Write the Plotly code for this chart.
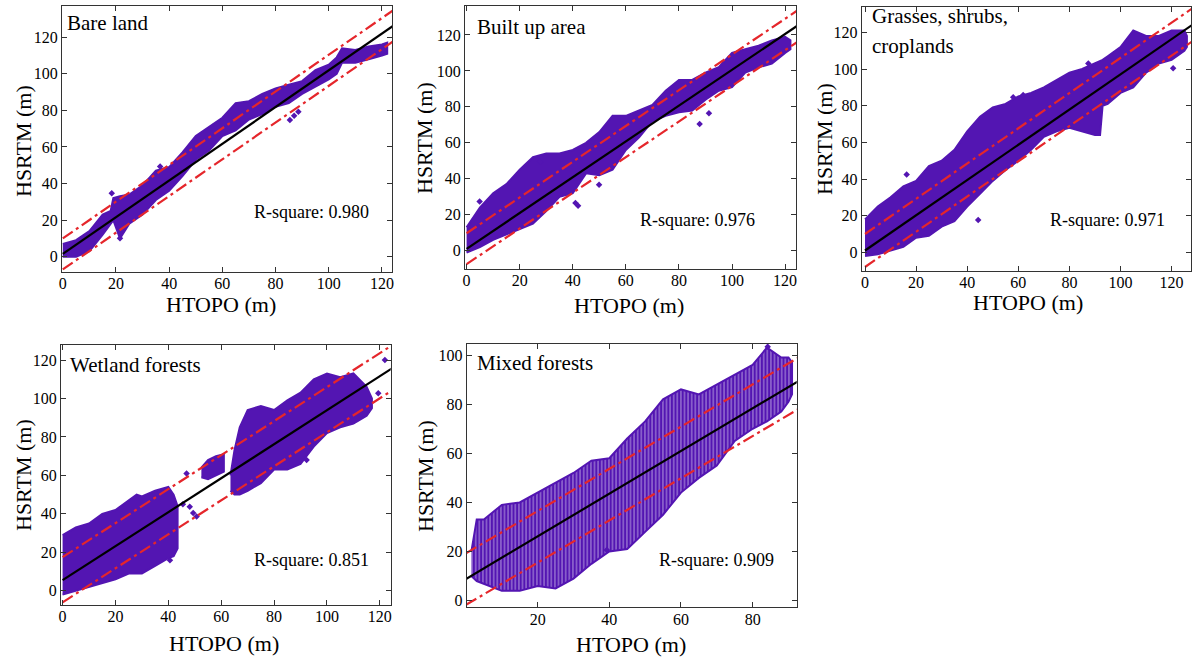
import plotly.graph_objects as go

# ---------------- data ----------------
panel_names = ["Bare land", "Built up area", "Grasses, shrubs,", "Wetland forests", "Mixed forests"]
panel_name_line2 = "croplands"
r_square = ["0.980", "0.976", "0.971", "0.851", "0.909"]
x_title = "HTOPO (m)"
y_title = "HSRTM (m)"

# Bare land: envelope of the point cloud (HTOPO, HSRTM upper/lower)
bare_x = [0, 5, 10, 15, 18, 19, 21.5, 25, 30, 35, 40, 45, 50, 55, 60, 65, 70, 75, 80, 85, 90, 95, 100, 103, 105, 110, 115, 120, 122]
bare_hi = [7, 9, 14, 23, 25, 32, 33, 34, 39, 47, 49, 57, 66, 71, 76, 84, 85, 89, 92, 94, 96, 102, 105, 109, 114, 113, 115, 116, 117]
bare_lo = [0, 0, 3, 12, 18, 20, 10, 18, 23, 31, 36, 44, 53, 58, 66, 69, 75, 78, 82, 84, 89, 93, 97, 100, 106, 106, 108, 110, 111]
bare_out_x = [85.4, 88.6, 36.6, 18.4, 21.5, 87.0]
bare_out_y = [74.8, 79.3, 49.3, 34.7, 10.0, 77.0]
bare_fit_x = [0, 125]
bare_fit = [1.5, 127.0]
bare_up = [10.0, 135.5]
bare_low = [-7.0, 118.5]

# Built up area
built_x = [0, 5, 10, 15, 20, 25, 30, 35, 40, 45, 50, 55, 60, 65, 70, 75, 80, 85, 90, 95, 100, 105, 110, 115, 120, 122]
built_hi = [13, 24, 32, 37, 45, 52, 54, 54, 56, 60, 66, 75, 75, 78, 81, 89, 95, 95, 99, 102, 110, 112, 114, 117, 119, 117]
built_lo = [-1, 2, 6, 9, 12, 15, 22, 30, 32, 43, 42, 45, 56, 63, 72, 75, 77, 78, 84, 89, 91, 99, 102, 104, 110, 112]
built_out_x = [4.9, 49.9, 87.8, 91.3, 27.7, 42.0, 41.0]
built_out_y = [27.3, 36.6, 70.5, 76.5, 49.5, 25.0, 26.5]
built_fit_x = [0, 125]
built_fit = [1.0, 125.5]
built_up = [9.7, 134.0]
built_low = [-7.5, 116.5]

# Grasses, shrubs, croplands
grass_x = [0, 5, 10, 15, 20, 25, 30, 35, 40, 45, 50, 55, 60, 65, 70, 75, 80, 85, 90, 92, 93, 95, 100, 105, 110, 115, 120, 125, 126]
grass_hi = [18, 25, 30, 36, 39, 47, 50, 56, 66, 74, 79, 81, 85, 87, 90, 94, 98, 100, 103, 104, 105, 107, 112, 121, 118, 118, 121, 121, 118]
grass_lo = [-2, -1, 1, 3, 8, 9, 14, 17, 25, 32, 39, 45, 50, 56, 63, 66, 68, 66, 64, 64, 80, 81, 87, 90, 98, 103, 105, 110, 112]
grass_out_x = [16.3, 44.3, 58.0, 61.9, 87.4, 120.6]
grass_out_y = [42.5, 17.6, 84.6, 85.9, 103.0, 100.4]
grass_fit_x = [0, 128]
grass_fit = [1.0, 124.0]
grass_up = [10.0, 133.0]
grass_low = [-8.0, 115.0]

# Wetland forests (separate clusters)
wet1_x = [0, 5, 10, 15, 20, 25, 28, 30, 35, 40, 42, 43.5]
wet1_hi = [29, 33, 35, 40, 42, 47, 50, 49, 52, 54, 50, 44]
wet1_lo = [-2, 0, 2, 4, 6, 9, 9, 9, 13, 17, 18, 22]
wet2_x = [52.5, 55, 58, 61]
wet2_hi = [64, 68, 70, 71]
wet2_lo = [59, 58, 60, 62]
wet3_x = [63.5, 65, 67, 70, 75, 80, 85, 90, 95, 100, 105, 110, 115, 117]
wet3_hi = [60, 73, 85, 94, 96, 94, 99, 103, 110, 113, 111, 113, 106, 100]
wet3_lo = [52, 50, 50, 52, 56, 63, 63, 66, 75, 82, 85, 87, 91, 95]
wet_out_x = [46.9, 49.4, 50.7, 48.1, 121.9, 119.4, 40.6, 92.3, 45.5]
wet_out_y = [61.0, 40.4, 38.6, 43.7, 120.0, 102.7, 15.9, 68.0, 45.0]
wet_fit_x = [0, 125]
wet_fit = [5.5, 116.0]
wet_up = [17.5, 128.0]
wet_low = [-6.0, 104.5]

# Mixed forests
mix_x = [1.5, 3, 5, 10, 15, 20, 25, 30, 35, 40, 45, 50, 55, 60, 65, 70, 75, 80, 84, 88, 90, 91]
mix_hi = [20, 33, 33, 39, 40, 44, 48, 52, 57, 58, 66, 73, 82, 86, 84, 88, 92, 96, 103, 99, 99, 97]
mix_lo = [10, 8, 7, 4, 4, 6, 5, 9, 15, 20, 21, 28, 35, 44, 50, 55, 65, 70, 73, 77, 81, 84]
mix_out_x = [39.3, 84.2]
mix_out_y = [20.6, 103.4]
mix_fit_x = [0, 93]
mix_fit = [8.8, 89.6]
mix_up = [19.3, 99.2]
mix_low = [-1.7, 78.2]

# Axis ranges and ticks
x_ranges = [[-0.3, 123.8], [-0.6, 124.1], [-1.3, 127.6], [-0.6, 124.1], [0.2, 92.3]]
y_ranges = [[-8.4, 137.1], [-10.2, 136.1], [-10.0, 134.0], [-7.4, 127.8], [-2.7, 104.5]]
x_ticks = [[0, 20, 40, 60, 80, 100, 120]] * 4 + [[20, 40, 60, 80]]
y_ticks = [[0, 20, 40, 60, 80, 100, 120]] * 4 + [[0, 20, 40, 60, 80, 100]]

# ---------------- styling / layout ----------------
PURPLE = "#5315B2"
RED = "#E5262B"
FONT = "Times New Roman, Liberation Serif, Tinos, DejaVu Serif, serif"
W, H = 1192, 657

# pixel boxes of the five axes: (left, right, top, bottom)
boxes = [(62, 392, 6, 272), (465, 796, 6, 269), (861.7, 1191, 6.7, 270.7),
         (61, 390.7, 345, 605), (466.7, 796.7, 344, 607.3)]
# axis-title centres in pixels: x title (cx, cy), y title (cx, cy)
xt_pos = [(221, 304), (629, 305), (1028, 303), (224, 643), (631, 644)]
yt_pos = [(23, 141), (424, 138), (825, 139), (23, 475), (425, 476)]

fig = go.Figure()


def ax_names(i):
    s = "" if i == 0 else str(i + 1)
    return "x" + s, "y" + s


def add_cloud(i, xs, hi, lo, pattern=False):
    xa, ya = ax_names(i)
    px = list(xs) + list(xs)[::-1]
    py = list(hi) + list(lo)[::-1]
    kw = {}
    if pattern:
        kw["fillpattern"] = dict(shape="|", bgcolor=PURPLE, fgcolor="#FFFFFF",
                                 size=3.6, solidity=0.18, fgopacity=0.85)
    fig.add_trace(go.Scatter(x=px, y=py, mode="lines", fill="toself", fillcolor=PURPLE,
                             line=dict(color=PURPLE, width=2), xaxis=xa, yaxis=ya,
                             showlegend=False, hoverinfo="skip", **kw))


def add_points(i, xs, ys):
    xa, ya = ax_names(i)
    fig.add_trace(go.Scatter(x=xs, y=ys, mode="markers",
                             marker=dict(symbol="diamond", size=5, color=PURPLE),
                             xaxis=xa, yaxis=ya, showlegend=False, hoverinfo="skip"))


def add_lines(i, fx, fit, up, low):
    xa, ya = ax_names(i)
    fig.add_trace(go.Scatter(x=fx, y=fit, mode="lines", line=dict(color="black", width=2.2),
                             xaxis=xa, yaxis=ya, showlegend=False, hoverinfo="skip"))
    for yy in (up, low):
        fig.add_trace(go.Scatter(x=fx, y=yy, mode="lines",
                                 line=dict(color=RED, width=2.2, dash="12px,4px,3px,4px"),
                                 xaxis=xa, yaxis=ya, showlegend=False, hoverinfo="skip"))


add_cloud(0, bare_x, bare_hi, bare_lo)
add_points(0, bare_out_x, bare_out_y)
add_lines(0, bare_fit_x, bare_fit, bare_up, bare_low)

add_cloud(1, built_x, built_hi, built_lo)
add_points(1, built_out_x, built_out_y)
add_lines(1, built_fit_x, built_fit, built_up, built_low)

add_cloud(2, grass_x, grass_hi, grass_lo)
add_points(2, grass_out_x, grass_out_y)
add_lines(2, grass_fit_x, grass_fit, grass_up, grass_low)

add_cloud(3, wet1_x, wet1_hi, wet1_lo)
add_cloud(3, wet2_x, wet2_hi, wet2_lo)
add_cloud(3, wet3_x, wet3_hi, wet3_lo)
add_points(3, wet_out_x, wet_out_y)
add_lines(3, wet_fit_x, wet_fit, wet_up, wet_low)

add_cloud(4, mix_x, mix_hi, mix_lo, pattern=True)
add_points(4, mix_out_x, mix_out_y)
add_lines(4, mix_fit_x, mix_fit, mix_up, mix_low)

layout = dict(width=W, height=H, margin=dict(l=0, r=0, t=0, b=0),
              paper_bgcolor="white", plot_bgcolor="white",
              font=dict(family=FONT, color="black"), showlegend=False)

annotations = []
title_pos = [(0.009, 0.936), (0.030, 0.921), (0.025, 0.966), (0.021, 0.923), (0.025, 0.927)]
r_pos = [(0.576, 0.226), (0.523, 0.186), (0.566, 0.192), (0.579, 0.173), (0.577, 0.180)]

for i, (l, r, t, b) in enumerate(boxes):
    xa, ya = ax_names(i)
    xk = "xaxis" if i == 0 else "xaxis%d" % (i + 1)
    yk = "yaxis" if i == 0 else "yaxis%d" % (i + 1)
    common = dict(showline=True, linecolor="#333333", linewidth=1, mirror="ticks",
                  ticks="inside", ticklen=5, tickcolor="#333333", tickwidth=1,
                  showgrid=False, zeroline=False, automargin=False,
                  tickfont=dict(family=FONT, size=16, color="black"))
    layout[xk] = dict(domain=[l / W, r / W], range=x_ranges[i], anchor=ya,
                      tickvals=x_ticks[i], ticklabelstandoff=-3, **common)
    layout[yk] = dict(domain=[1 - b / H, 1 - t / H], range=y_ranges[i], anchor=xa,
                      tickvals=y_ticks[i], **common)
    cx, cy = xt_pos[i]
    annotations.append(dict(text=x_title, xref="paper", yref="paper", x=cx / W, y=1 - cy / H,
                            xanchor="center", yanchor="middle", showarrow=False,
                            font=dict(family=FONT, size=22, color="black")))
    cx, cy = yt_pos[i]
    annotations.append(dict(text=y_title, xref="paper", yref="paper", x=cx / W, y=1 - cy / H,
                            xanchor="center", yanchor="middle", showarrow=False, textangle=-90,
                            font=dict(family=FONT, size=22, color="black")))
    tx, ty = title_pos[i]
    annotations.append(dict(text=panel_names[i], xref=xa + " domain", yref=ya + " domain",
                            x=tx, y=ty, xanchor="left", yanchor="middle", showarrow=False,
                            font=dict(family=FONT, size=21, color="black")))
    rx, ry = r_pos[i]
    annotations.append(dict(text="R-square: " + r_square[i], xref=xa + " domain",
                            yref=ya + " domain", x=rx, y=ry, xanchor="left", yanchor="middle",
                            showarrow=False, font=dict(family=FONT, size=18, color="black")))

annotations.append(dict(text=panel_name_line2, xref="x3 domain", yref="y3 domain",
                        x=0.025, y=0.852, xanchor="left", yanchor="middle", showarrow=False,
                        font=dict(family=FONT, size=21, color="black")))

layout["annotations"] = annotations
fig.update_layout(**layout)
fig.write_html("out.html", config={"displayModeBar": False},
               post_script="document.body.style.margin='0';document.body.style.overflow='hidden';")
